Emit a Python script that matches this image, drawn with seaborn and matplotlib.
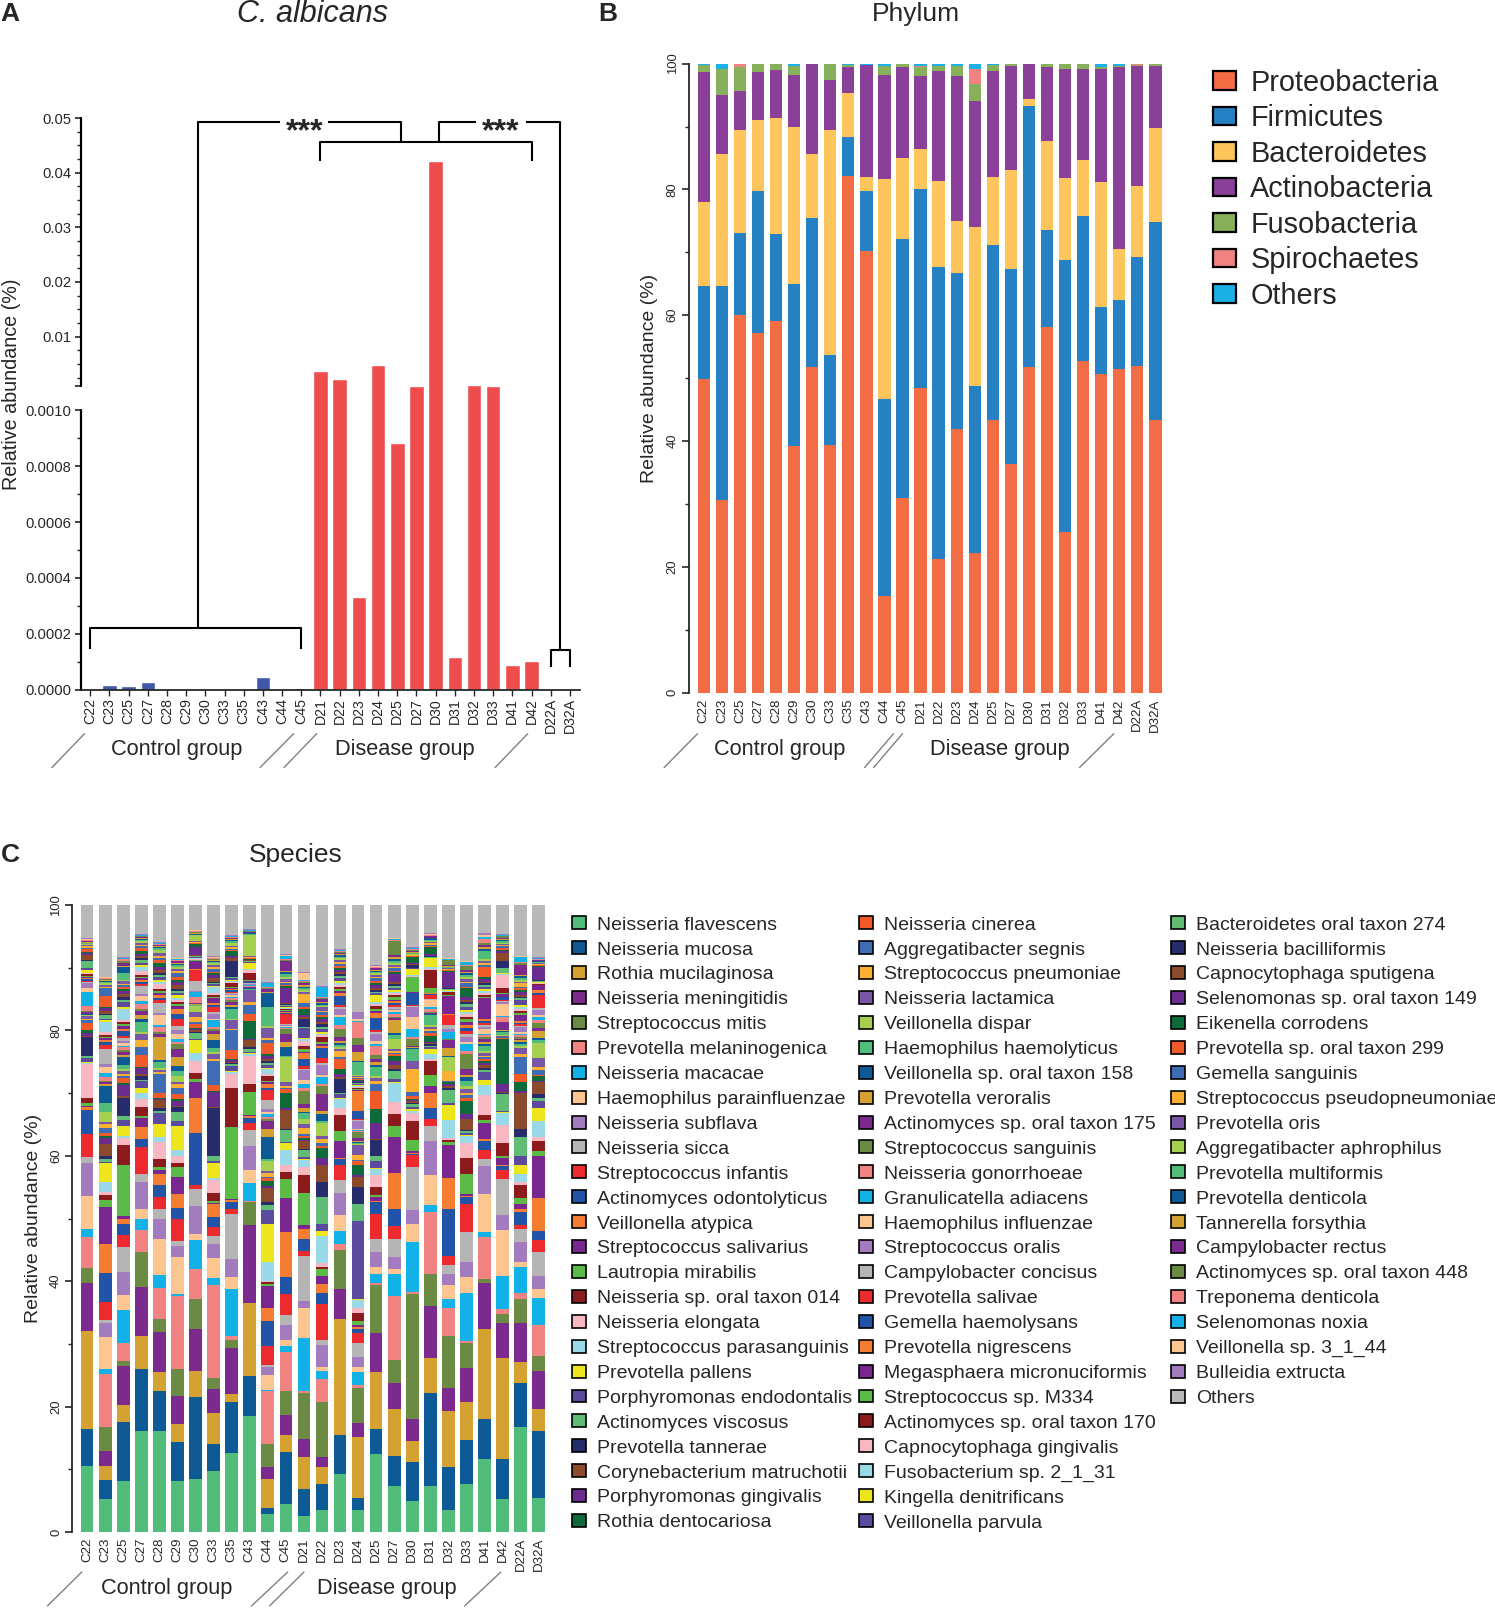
import numpy as np
import pandas as pd
import matplotlib
matplotlib.use("Agg")
import matplotlib.pyplot as plt
from matplotlib.patches import Patch
from matplotlib.transforms import blended_transform_factory
from matplotlib.ticker import FixedLocator, FixedFormatter, NullFormatter
import seaborn as sns

sns.set_theme(style="ticks")
plt.rcParams['font.family'] = ['Liberation Sans', 'DejaVu Sans']
plt.rcParams['axes.linewidth'] = 1.3
plt.rcParams['xtick.major.width'] = 1.0
plt.rcParams['ytick.major.width'] = 1.2
plt.rcParams['ytick.minor.width'] = 1.0

FIG_W, FIG_H = 1495, 1609   # output size in pixels
W, H = 1457, 1568           # frame in which layout positions were measured

samples = ['C22', 'C23', 'C25', 'C27', 'C28', 'C29', 'C30', 'C33', 'C35', 'C43', 'C44', 'C45',
           'D21', 'D22', 'D23', 'D24', 'D25', 'D27', 'D30', 'D31', 'D32', 'D33', 'D41', 'D42',
           'D22A', 'D32A']
groups = ['Control'] * 12 + ['Disease'] * 14

# ---- panel A : C. albicans relative abundance (%)
ca_vals = [0, 1.7e-5, 1.4e-5, 2.6e-5, 0, 3e-6, 0, 3e-6, 0, 4.4e-5, 0, 6e-6,
           0.00368, 0.00226, 0.000331, 0.00486, 0.000885, 0.00105, 0.0422, 0.000115,
           0.00108, 0.00102, 0.0000886, 0.000104, 0, 0]

# ---- panel B : phylum composition (%)
phyla = ['Proteobacteria', 'Firmicutes', 'Bacteroidetes', 'Actinobacteria',
         'Fusobacteria', 'Spirochaetes', 'Others']
proteo = [49.9, 30.7, 60.0, 57.1, 59.1, 39.2, 51.8, 39.4, 82.1, 70.2, 15.4, 31.0, 48.4,
          21.3, 41.9, 22.2, 43.4, 36.3, 51.7, 58.2, 25.5, 52.7, 50.7, 51.4, 51.9, 43.3]
firmi = [14.7, 34.0, 13.1, 22.7, 13.8, 25.7, 23.6, 14.3, 6.3, 9.6, 31.3, 41.1, 31.6,
         46.3, 24.8, 26.6, 27.7, 31.1, 41.5, 15.3, 43.3, 23.1, 10.6, 11.1, 17.4, 31.5]
bacte = [13.4, 20.9, 16.4, 11.2, 18.5, 25.0, 10.2, 35.7, 6.9, 2.1, 34.9, 12.9, 6.5,
         13.7, 8.3, 25.2, 10.9, 15.7, 1.1, 14.2, 13.0, 8.9, 19.9, 8.1, 11.2, 14.9]
actino = [20.6, 9.4, 6.2, 7.7, 7.6, 8.3, 14.3, 8.0, 4.1, 17.9, 16.6, 14.4, 11.5,
          17.5, 23.0, 20.0, 16.9, 16.6, 5.6, 11.7, 17.4, 14.4, 18.0, 28.9, 19.1, 9.9]
fuso = [1.2, 4.2, 3.7, 1.2, 0.9, 1.4, 0.0, 2.5, 0.4, 0.0, 1.4, 0.5, 1.5,
        0.9, 1.6, 2.7, 0.9, 0.2, 0.0, 0.5, 0.7, 0.8, 0.3, 0.1, 0.2, 0.3]
spiro = [0, 0, 0.5, 0, 0, 0, 0, 0, 0, 0, 0, 0, 0.2,
         0, 0, 2.5, 0, 0, 0, 0, 0, 0, 0, 0, 0.2, 0]
phylum_colors = ['#f26c44', '#2581c4', '#fdc55b', '#8a3f98', '#86b15a', '#f08282', '#1ab1e7']

# ---- panel C : species composition (%), legend order, 'Others' is the rest
species = [
    'Neisseria flavescens', 'Neisseria mucosa', 'Rothia mucilaginosa', 'Neisseria meningitidis', 'Streptococcus mitis',
    'Prevotella melaninogenica', 'Neisseria macacae', 'Haemophilus parainfluenzae', 'Neisseria subflava', 'Neisseria sicca',
    'Streptococcus infantis', 'Actinomyces odontolyticus', 'Veillonella atypica', 'Streptococcus salivarius', 'Lautropia mirabilis',
    'Neisseria sp. oral taxon 014', 'Neisseria elongata', 'Streptococcus parasanguinis', 'Prevotella pallens', 'Porphyromonas endodontalis',
    'Actinomyces viscosus', 'Prevotella tannerae', 'Corynebacterium matruchotii', 'Porphyromonas gingivalis', 'Rothia dentocariosa',
    'Neisseria cinerea', 'Aggregatibacter segnis', 'Streptococcus pneumoniae', 'Neisseria lactamica', 'Veillonella dispar',
    'Haemophilus haemolyticus', 'Veillonella sp. oral taxon 158', 'Prevotella veroralis', 'Actinomyces sp. oral taxon 175', 'Streptococcus sanguinis',
    'Neisseria gonorrhoeae', 'Granulicatella adiacens', 'Haemophilus influenzae', 'Streptococcus oralis', 'Campylobacter concisus',
    'Prevotella salivae', 'Gemella haemolysans', 'Prevotella nigrescens', 'Megasphaera micronuciformis', 'Streptococcus sp. M334',
    'Actinomyces sp. oral taxon 170', 'Capnocytophaga gingivalis', 'Fusobacterium sp. 2_1_31', 'Kingella denitrificans', 'Veillonella parvula',
    'Bacteroidetes oral taxon 274', 'Neisseria bacilliformis', 'Capnocytophaga sputigena', 'Selenomonas sp. oral taxon 149', 'Eikenella corrodens',
    'Prevotella sp. oral taxon 299', 'Gemella sanguinis', 'Streptococcus pseudopneumoniae', 'Prevotella oris', 'Aggregatibacter aphrophilus',
    'Prevotella multiformis', 'Prevotella denticola', 'Tannerella forsythia', 'Campylobacter rectus', 'Actinomyces sp. oral taxon 448',
    'Treponema denticola', 'Selenomonas noxia', 'Veillonella sp. 3_1_44', 'Bulleidia extructa']
color_cycle = ['#52bd7b', '#0d5a97', '#d5a130', '#7d2a8f', '#6b8b45', '#f28383', '#12b1e8', '#fdc690', '#a27cbf', '#b5b5b5',
               '#ed2a2e', '#2153a6', '#f47d31', '#7a2690', '#5bbb47', '#8c1b1e', '#f8b8c2', '#9ad9e8', '#ede61c', '#5c4a9f',
               '#61bd75', '#262c6c', '#8a4a2b', '#6b2c8f', '#0e6b39', '#f05a28', '#3e6cb5', '#fbb034', '#7957a6', '#a6cf4f']
others_color = '#b9b9b9'

c22 = [10.5, 6.0, 15.5, 7.7, 2.4, 5.0, 1.3, 5.2, 5.3, 0.9, 3.7, 3.8, 0.5, 0.2, 0.5, 0.7, 5.4, 0.2, 0.2, 0.6, 0.3, 3.0, 0.2, 0.5, 0.4,
       1.2, 0.5, 0.1, 0.5, 0.1, 0.1, 0.1, 0.1, 0.3, 0.1, 0.8, 2.2, 0.7, 0.7, 0.3, 0.1, 0.3, 0.1, 0.3, 0.1,
       0.3, 0.1, 0.1, 0.5, 0.3, 1.0, 0.2, 0.8, 0.3, 0.2, 0.5, 0.2, 0.2, 0.2, 0.2, 0.1, 0.1, 0.1, 0.1, 0.1,
       0.1, 0.1, 0.1, 0.1]
c23 = [5.2, 3.1, 2.2, 2.4, 3.9, 8.4, 0.8, 5.1, 2.2, 0.5, 2.9, 4.6, 4.6, 5.9, 1.1, 0.8, 0.6, 1.6, 2.9, 0.2, 0.5, 0.5, 1.9, 1.0, 0.2,
       0.5, 0.8, 0.7, 0.3, 1.6, 1.4, 2.7, 0.3, 0.3, 0.3, 0.5, 0.7, 1.0, 0.4, 2.4, 0.7, 0.5, 0.3, 0.3, 0.2,
       0.3, 0.4, 1.7, 0.2, 0.3, 0.5, 0.2, 0.5, 0.5, 0.2, 1.7, 1.3, 0.2, 0.3, 0.2, 0.2, 0.2, 0.1, 0.1, 0.1,
       0.1, 0.1, 0.1, 0.1]
c25 = [8.1, 9.5, 2.6, 6.3, 0.8, 2.9, 5.2, 2.4, 3.7, 3.9, 1.9, 1.8, 0.9, 0.4, 8.1, 3.2, 1.2, 0.2, 1.7, 0.9, 0.7, 2.9, 0.3, 1.7, 0.3,
       0.8, 0.3, 0.3, 0.5, 0.3, 0.7, 1.3, 0.3, 0.5, 0.3, 0.4, 0.3, 0.4, 0.3, 0.5, 0.3, 0.8, 0.3, 0.5, 0.3,
       0.3, 0.3, 1.9, 0.3, 0.7, 0.3, 0.5, 0.5, 0.5, 0.3, 0.3, 0.3, 0.2, 0.5, 0.2, 1.1, 0.9, 0.2, 0.5, 0.2,
       0.4, 0.1, 0.1, 0.1]
c27 = [16.1, 9.9, 5.3, 7.8, 5.5, 3.5, 1.9, 1.6, 4.2, 1.3, 4.3, 1.3, 1.9, 1.5, 0.2, 1.5, 1.2, 1.1, 0.8, 1.0, 0.2, 0.7, 0.2, 1.0, 0.2,
       1.9, 1.3, 1.1, 1.0, 0.3, 1.6, 0.5, 0.6, 0.6, 0.3, 0.8, 0.5, 0.8, 0.3, 1.3, 0.3, 0.3, 0.3, 0.4, 0.2,
       0.3, 0.6, 0.7, 0.3, 0.3, 0.4, 0.3, 0.4, 0.3, 0.5, 0.4, 0.3, 0.3, 0.2, 0.3, 0.2, 0.2, 0.1, 0.2, 0.1,
       0.1, 0.1, 0.1, 0.1]
c28 = [16.1, 6.4, 3.1, 6.3, 2.1, 4.9, 2.1, 5.7, 3.2, 1.7, 1.8, 1.9, 1.8, 0.6, 0.5, 1.3, 2.7, 0.8, 2.1, 1.8, 0.2, 0.6, 1.2, 0.2, 0.2,
       0.8, 3.0, 0.3, 0.3, 0.3, 1.0, 0.3, 3.7, 0.5, 0.3, 0.8, 0.3, 1.6, 0.3, 1.6, 0.4, 0.3, 0.5, 0.4, 0.3,
       0.3, 0.8, 0.3, 0.3, 0.5, 0.4, 0.3, 0.5, 0.5, 0.6, 0.5, 0.3, 0.3, 0.4, 0.5, 0.3, 0.2, 0.1, 0.2, 0.1,
       0.1, 0.1, 0.1, 0.1]
c29 = [8.2, 6.1, 3.0, 4.4, 4.3, 11.6, 0.4, 5.8, 1.9, 0.7, 3.5, 1.8, 2.2, 2.7, 1.6, 0.7, 1.1, 1.0, 3.7, 0.9, 1.4, 0.8, 0.2, 0.8, 0.2,
       0.8, 1.0, 0.6, 0.3, 1.0, 0.9, 0.8, 1.3, 1.4, 0.8, 0.3, 0.5, 0.7, 0.6, 0.7, 1.2, 0.8, 0.8, 0.4, 0.3,
       0.3, 0.4, 0.3, 0.4, 0.4, 0.3, 0.3, 0.6, 0.6, 0.3, 0.5, 0.5, 0.4, 0.3, 0.3, 0.3, 0.2, 0.2, 0.2, 0.1,
       0.2, 0.1, 0.1, 0.1]
c30 = [8.4, 13.2, 4.1, 6.7, 4.8, 4.7, 4.6, 1.0, 4.5, 2.7, 0.6, 8.3, 5.7, 2.5, 0.5, 0.9, 2.0, 1.2, 2.1, 0.2, 0.9, 0.2, 0.2, 0.2, 0.2,
       0.7, 0.2, 0.8, 0.9, 0.9, 0.1, 0.1, 0.1, 0.1, 0.1, 1.0, 0.7, 0.1, 0.1, 1.6, 1.7, 0.1, 0.1, 1.3, 0.1,
       0.1, 0.1, 0.1, 0.1, 0.1, 0.1, 0.1, 0.1, 1.3, 0.5, 0.1, 0.1, 0.1, 0.1, 1.0, 0.1, 0.1, 0.1, 0.1, 0.1,
       0.1, 0.1, 0.1, 0.1]
c33 = [9.8, 4.2, 5.0, 3.8, 1.7, 14.9, 1.1, 3.2, 2.3, 1.2, 1.5, 1.6, 2.0, 0.2, 0.3, 1.3, 2.1, 0.2, 2.4, 0.3, 0.8, 7.7, 0.2, 2.4, 0.2,
       0.9, 3.9, 0.3, 0.8, 0.2, 0.7, 1.2, 1.1, 0.4, 0.3, 0.3, 1.1, 0.3, 0.7, 0.3, 0.8, 0.3, 0.3, 0.9, 0.2,
       0.3, 0.2, 1.0, 0.2, 0.3, 0.2, 0.2, 0.5, 0.6, 0.2, 0.3, 0.4, 0.4, 0.3, 0.2, 0.2, 0.2, 0.1, 0.1, 0.1,
       0.1, 0.1, 0.1, 0.1]
c35 = [12.6, 8.1, 1.3, 7.3, 1.4, 0.6, 7.4, 2.0, 2.8, 7.2, 0.8, 1.1, 0.3, 0.2, 11.5, 6.2, 2.3, 0.2, 0.2, 0.9, 0.2, 0.2, 0.2, 0.3, 0.2,
       1.4, 3.1, 0.3, 1.3, 0.3, 1.6, 0.3, 0.3, 0.4, 0.4, 0.3, 0.2, 0.2, 0.2, 0.2, 0.2, 0.2, 0.2, 0.2, 0.2,
       0.5, 0.2, 0.2, 0.2, 0.3, 0.2, 2.4, 0.5, 0.3, 0.8, 0.2, 0.2, 0.3, 0.2, 0.5, 0.3, 0.2, 0.1, 0.1, 0.1,
       0.1, 0.1, 0.1, 0.1]
c43 = [18.5, 6.4, 11.6, 12.4, 3.7, 0.2, 2.9, 2.1, 3.8, 2.6, 1.0, 0.9, 0.2, 0.2, 3.7, 1.3, 4.5, 0.2, 0.2, 0.2, 0.5, 0.2, 1.1, 0.2, 2.9,
       1.2, 1.4, 0.5, 1.8, 0.1, 0.1, 0.1, 0.1, 0.1, 0.1, 0.1, 0.1, 0.1, 0.1, 0.1, 0.1, 0.1, 0.1, 0.1, 0.1,
       1.2, 0.4, 0.2, 1.0, 0.1, 0.1, 0.1, 0.1, 0.1, 0.1, 0.1, 0.1, 0.1, 0.1, 3.5, 0.1, 0.1, 0.1, 0.1, 0.1,
       0.1, 0.1, 0.1, 0.1]
c44 = [2.9, 1.0, 4.6, 1.9, 3.6, 8.5, 0.2, 2.4, 1.3, 0.2, 3.0, 4.1, 2.0, 3.6, 0.3, 0.3, 0.2, 3.0, 6.0, 2.2, 0.8, 0.6, 2.1, 0.4, 0.8,
       0.4, 0.3, 0.6, 0.3, 1.6, 0.3, 3.5, 1.3, 1.3, 0.3, 0.3, 0.5, 0.3, 0.5, 1.4, 1.6, 0.3, 0.6, 0.3, 0.3,
       0.7, 0.3, 0.8, 0.2, 0.5, 0.3, 0.3, 0.3, 0.5, 0.3, 1.8, 0.5, 0.3, 1.6, 0.3, 3.0, 2.3, 0.2, 0.4, 0.2,
       0.2, 0.5, 0.1, 0.1]
c45 = [4.4, 8.3, 2.8, 3.1, 3.9, 6.2, 1.0, 1.0, 2.4, 1.5, 3.4, 2.7, 7.1, 5.4, 3.1, 1.1, 1.1, 2.5, 1.0, 0.2, 1.9, 0.2, 3.0, 0.4, 2.4,
       0.5, 0.3, 0.3, 0.5, 4.0, 0.3, 1.3, 0.8, 1.3, 0.8, 0.15, 0.25, 0.15, 0.15, 0.15, 1.5, 0.2, 0.15, 0.15, 0.15,
       0.15, 0.15, 0.15, 0.15, 0.15, 0.15, 0.1, 0.15, 2.5, 0.2, 0.2, 0.3, 0.2, 0.5, 0.3, 0.5, 0.3, 0.2, 1.5, 0.2,
       0.2, 0.5, 0.1, 0.1]
d21 = [2.6, 4.3, 5.0, 3.0, 7.3, 0.3, 8.5, 4.8, 1.1, 7.2, 0.7, 2.0, 1.6, 0.5, 5.1, 3.0, 1.3, 1.0, 0.2, 0.3, 1.1, 0.2, 1.2, 0.3, 0.2,
       0.3, 0.4, 0.9, 0.7, 0.7, 1.0, 0.2, 0.7, 0.6, 2.1, 0.5, 0.5, 0.7, 1.6, 0.2, 0.4, 1.2, 0.9, 0.2, 0.5,
       0.5, 0.7, 0.3, 0.2, 1.6, 0.2, 1.2, 0.4, 0.2, 1.0, 0.3, 0.6, 1.5, 0.3, 0.3, 0.3, 0.3, 0.2, 0.3, 0.2,
       0.2, 0.2, 1.1, 0.2]
d22 = [3.5, 4.1, 2.8, 1.6, 8.8, 3.6, 1.3, 0.7, 3.4, 0.9, 5.6, 1.9, 1.4, 1.3, 1.0, 0.4, 0.6, 4.3, 0.8, 1.1, 4.3, 2.5, 2.6, 1.2, 1.5,
       0.4, 0.5, 0.6, 0.4, 2.1, 0.3, 1.1, 0.5, 2.7, 1.4, 0.2, 1.2, 0.3, 1.6, 0.3, 0.8, 1.6, 0.3, 0.3, 0.3,
       0.8, 0.3, 0.3, 0.3, 0.5, 0.3, 0.4, 0.3, 0.5, 0.3, 0.3, 0.5, 0.2, 0.6, 0.2, 0.2, 0.3, 0.2, 0.4, 0.2,
       0.2, 1.5, 0.1, 0.1]
d23 = [9.2, 6.2, 18.6, 4.8, 6.2, 0.9, 2.1, 2.5, 3.5, 2.2, 2.3, 1.0, 0.2, 2.6, 1.7, 2.5, 1.1, 1.4, 0.2, 0.6, 0.2, 2.3, 0.2, 0.6, 0.8,
       1.6, 0.3, 1.0, 0.3, 0.3, 0.3, 0.3, 0.3, 0.6, 1.4, 0.6, 1.2, 0.3, 1.0, 0.3, 0.3, 1.5, 0.4, 0.4, 0.3,
       0.4, 0.3, 0.3, 0.3, 0.4, 0.4, 0.3, 0.3, 0.3, 0.3, 0.4, 0.3, 0.3, 0.3, 0.3, 0.2, 0.3, 0.2, 0.2, 0.1,
       0.2, 0.1, 0.1, 0.1]
d24 = [3.5, 2.0, 9.7, 2.2, 5.5, 0.5, 2.1, 0.9, 1.5, 2.3, 1.5, 0.7, 0.3, 0.4, 0.5, 1.4, 0.8, 1.2, 0.2, 12.4, 2.8, 2.7, 1.6, 0.3, 1.6,
       0.5, 0.3, 0.8, 1.6, 0.15, 0.15, 0.15, 0.15, 0.4, 1.0, 0.15, 0.15, 0.15, 1.3, 0.15, 0.15, 1.3, 3.2, 0.15, 0.15,
       0.15, 0.15, 0.15, 0.15, 0.15, 0.15, 0.15, 0.15, 0.15, 0.15, 0.15, 0.15, 0.15, 0.15, 0.15, 2.0, 0.15, 1.5, 1.2, 1.0,
       2.6, 0.2, 0.2, 1.2]
d25 = [12.4, 4.1, 9.0, 6.2, 7.7, 0.4, 1.3, 1.1, 2.5, 2.0, 4.1, 1.8, 0.2, 0.6, 0.4, 1.2, 1.9, 1.0, 0.2, 1.0, 0.8, 2.6, 0.2, 2.6, 2.1,
       3.0, 1.0, 0.5, 0.5, 0.4, 1.3, 0.4, 0.4, 0.6, 0.6, 1.4, 0.3, 0.5, 1.2, 0.3, 0.3, 1.9, 0.8, 0.3, 0.3,
       0.5, 0.3, 0.3, 1.1, 0.3, 0.3, 0.3, 0.3, 0.5, 0.3, 0.3, 0.4, 0.3, 0.3, 0.2, 0.2, 0.2, 0.2, 0.2, 0.1,
       0.1, 0.1, 0.1, 0.1]
d27 = [7.3, 4.8, 7.6, 4.0, 3.7, 10.2, 3.5, 0.9, 1.9, 2.9, 2.0, 2.7, 5.7, 5.8, 1.7, 1.9, 2.0, 3.0, 0.2, 0.4, 1.4, 0.2, 0.7, 0.6, 0.8,
       0.3, 0.2, 0.4, 0.3, 1.6, 0.6, 0.3, 2.1, 0.3, 0.2, 0.4, 0.3, 0.3, 0.2, 0.4, 0.3, 0.3, 0.3, 0.2, 0.4,
       0.3, 0.3, 0.2, 0.4, 0.3, 0.3, 0.3, 0.3, 1.3, 0.3, 0.2, 0.4, 0.3, 0.3, 0.3, 0.2, 0.4, 0.3, 0.3, 2.2,
       0.2, 0.2, 0.1, 0.1]
d30 = [4.9, 6.3, 3.3, 3.5, 19.9, 0.4, 8.0, 2.8, 2.3, 6.8, 1.9, 0.2, 0.2, 0.2, 1.8, 3.1, 1.3, 0.3, 0.3, 0.3, 0.5, 0.2, 0.2, 0.2, 0.2,
       0.5, 0.6, 3.6, 1.3, 0.1, 1.9, 0.1, 0.1, 0.3, 1.0, 0.4, 1.3, 1.9, 1.6, 0.1, 0.1, 1.9, 0.1, 0.1, 2.4,
       0.1, 0.1, 0.1, 1.0, 0.1, 0.1, 0.5, 0.1, 0.1, 1.0, 0.1, 0.1, 0.1, 0.1, 0.1, 0.1, 0.1, 0.1, 0.1, 0.3,
       0.1, 0.1, 0.1, 0.1]
d31 = [7.3, 14.9, 5.6, 8.3, 5.0, 9.9, 1.1, 4.8, 5.5, 2.4, 1.1, 1.8, 2.4, 1.1, 1.7, 2.3, 0.3, 0.8, 0.8, 0.2, 0.3, 0.2, 0.2, 0.2, 0.9,
       0.5, 0.3, 0.4, 0.3, 0.3, 1.6, 0.1, 0.1, 0.1, 0.1, 0.6, 0.2, 1.1, 0.1, 0.1, 0.7, 0.1, 0.1, 0.1, 0.7,
       2.9, 0.2, 0.4, 1.3, 0.1, 0.1, 0.1, 0.1, 0.3, 1.1, 0.2, 0.2, 0.2, 0.2, 0.2, 0.2, 0.2, 0.1, 0.2, 0.1,
       0.1, 0.1, 0.1, 0.1]
d32 = [3.5, 6.9, 8.9, 3.7, 8.2, 4.6, 1.3, 2.3, 1.7, 1.5, 1.5, 7.5, 4.9, 5.3, 0.4, 0.3, 0.3, 2.9, 2.4, 0.3, 2.1, 0.3, 0.3, 0.3, 0.3,
       0.1, 0.1, 1.6, 0.1, 2.1, 0.1, 0.1, 1.3, 1.3, 0.1, 0.1, 1.0, 0.1, 0.5, 0.5, 1.6, 0.1, 0.1, 2.9, 0.1,
       0.5, 0.1, 0.1, 0.1, 0.1, 0.1, 0.1, 0.1, 2.6, 0.1, 0.1, 0.1, 0.1, 0.1, 0.1, 0.1, 0.1, 0.1, 0.1, 0.8,
       0.1, 0.1, 0.1, 0.1]
d33 = [7.6, 7.1, 6.0, 5.4, 4.1, 0.3, 7.7, 2.5, 2.3, 4.9, 4.4, 1.1, 0.2, 0.3, 3.2, 2.6, 2.3, 1.1, 0.2, 0.3, 0.3, 0.3, 1.6, 0.8, 2.1,
       0.5, 0.5, 0.4, 0.6, 0.5, 0.8, 0.5, 0.4, 1.0, 2.4, 0.4, 1.1, 0.4, 0.8, 0.4, 0.5, 0.5, 0.4, 0.6, 0.4,
       0.4, 0.4, 0.4, 0.3, 0.5, 0.4, 0.3, 0.4, 0.5, 1.3, 0.3, 0.5, 0.3, 0.4, 0.3, 0.3, 0.4, 0.2, 0.3, 0.6,
       0.2, 0.4, 0.1, 0.1]
d41 = [11.6, 6.4, 14.4, 7.4, 0.5, 6.7, 0.9, 6.0, 4.5, 1.1, 1.5, 1.4, 0.3, 2.6, 0.4, 0.8, 3.2, 1.6, 0.8, 1.3, 0.3, 0.3, 0.5, 0.3, 0.3,
       0.3, 0.3, 0.3, 0.4, 0.3, 0.8, 0.3, 0.3, 0.5, 0.3, 0.3, 0.3, 0.8, 0.3, 0.3, 0.3, 0.3, 0.3, 3.3, 0.3,
       0.3, 0.3, 0.3, 0.3, 0.3, 0.3, 0.3, 0.3, 0.4, 0.4, 1.6, 0.3, 0.3, 0.3, 0.3, 1.3, 0.3, 0.3, 0.4, 0.3,
       0.6, 0.3, 0.4, 0.2]
d42 = [5.3, 6.4, 16.0, 5.6, 1.4, 0.8, 5.4, 7.2, 2.4, 5.8, 1.4, 0.7, 0.2, 1.1, 0.2, 2.1, 2.9, 1.9, 0.2, 0.2, 2.6, 0.2, 0.2, 1.3, 7.2,
       0.1, 0.1, 0.1, 0.1, 0.1, 0.6, 0.1, 0.1, 1.3, 0.1, 0.8, 0.1, 1.9, 0.4, 0.1, 0.1, 0.5, 0.1, 0.4, 0.1,
       0.9, 2.1, 0.1, 0.1, 0.1, 0.8, 1.0, 1.3, 0.3, 0.3, 0.3, 0.2, 0.2, 0.2, 0.2, 0.2, 0.2, 0.2, 0.2, 0.2,
       0.1, 0.1, 0.1, 0.1]
d22a = [16.8, 6.9, 3.4, 6.2, 3.8, 1.1, 4.1, 0.8, 3.1, 2.1, 0.6, 2.2, 0.5, 0.8, 0.8, 2.1, 0.5, 1.3, 1.5, 1.3, 3.1, 1.3, 5.8, 0.3, 1.4,
        1.3, 2.6, 0.5, 1.0, 0.4, 0.3, 0.25, 0.25, 0.3, 0.25, 0.25, 0.25, 0.25, 0.8, 0.25, 0.25, 0.25, 0.25, 1.0, 0.3,
        0.3, 0.3, 0.3, 0.3, 0.8, 0.3, 0.3, 0.3, 0.4, 0.3, 0.3, 0.3, 0.5, 0.3, 0.3, 0.3, 0.3, 0.2, 1.6, 0.2,
        0.2, 0.8, 0.1, 0.1]
d32a = [5.5, 10.6, 3.6, 6.0, 2.4, 5.0, 4.3, 1.3, 2.1, 3.9, 1.9, 1.4, 5.2, 6.7, 0.9, 1.6, 0.6, 2.6, 2.1, 1.0, 0.6, 0.6, 1.8, 0.2, 0.8,
        0.2, 0.8, 0.5, 1.4, 2.4, 0.4, 0.4, 1.1, 0.5, 0.8, 0.5, 0.5, 0.3, 0.8, 0.3, 2.1, 0.3, 0.4, 0.8, 0.1,
        0.1, 0.1, 0.1, 0.1, 0.1, 0.1, 0.1, 0.1, 2.1, 0.1, 0.1, 0.1, 0.1, 0.1, 0.1, 0.1, 0.1, 0.1, 0.1, 0.1,
        0.1, 0.1, 0.1, 0.1]
species_table = [c22, c23, c25, c27, c28, c29, c30, c33, c35, c43, c44, c45,
                 d21, d22, d23, d24, d25, d27, d30, d31, d32, d33, d41, d42, d22a, d32a]


def px(x, y):
    return x / W, 1 - y / H


def box(x0, y0, x1, y1):
    return [x0 / W, 1 - y1 / H, (x1 - x0) / W, (y1 - y0) / H]


fig = plt.figure(figsize=(FIG_W / 100, FIG_H / 100), dpi=100)

# ================= A =================
axA = fig.add_axes(box(78.6, 115, 564.8, 672))
dfA = pd.DataFrame({'sample': samples, 'val': ca_vals, 'group': groups})
sns.barplot(data=dfA, x='sample', y='val', hue='group',
            palette={'Control': '#3f58a8', 'Disease': '#ef4c4e'},
            dodge=False, saturation=1, width=0.76, errorbar=None, legend=False, ax=axA)

# broken axis: 0-0.001 in the lower part, 0.001-0.05 in the upper part
bp = [-1.0, 0.0, 0.001, 0.001 + 1e-9, 0.05, 1.0]
pp = [-272000.0, 0.0, 272.0, 296.0, 557.0, 557.0 + 0.95 * 5330.6]


def fwd(v):
    return np.interp(v, bp, pp)


def inv(p):
    return np.interp(p, pp, bp)


axA.set_yscale('function', functions=(fwd, inv))
axA.set_ylim(0, 0.05)
axA.set_xlim(-0.5, 25.5)
majA = [0, 0.0002, 0.0004, 0.0006, 0.0008, 0.0010, 0.0010001, 0.01, 0.02, 0.03, 0.04, 0.05]
labA = ['0.0000', '0.0002', '0.0004', '0.0006', '0.0008', '0.0010', '', '0.01', '0.02', '0.03', '0.04', '0.05']
minA = [0.0001, 0.0003, 0.0005, 0.0007, 0.0009] + [0.0025 * k for k in range(1, 20) if k % 4 != 0]
axA.yaxis.set_major_locator(FixedLocator(majA))
axA.yaxis.set_major_formatter(FixedFormatter(labA))
axA.yaxis.set_minor_locator(FixedLocator(minA))
axA.yaxis.set_minor_formatter(NullFormatter())
axA.tick_params(axis='y', which='major', length=4.5, labelsize=10.6, pad=2)
axA.tick_params(axis='y', which='minor', length=2.8)
axA.tick_params(axis='x', length=4, labelsize=10.2, pad=2)
axA.set_xticks(range(len(samples)))
axA.set_xticklabels(samples, rotation=90)
axA.set_xlabel('')
axA.set_ylabel('Relative abundance (%)', fontsize=14.2)
axA.yaxis.set_label_coords(-0.12, 0.535)
for s in ['top', 'right', 'left']:
    axA.spines[s].set_visible(False)
trA = blended_transform_factory(axA.transAxes, axA.transData)
axA.plot([0, 0], [0, 0.001], transform=trA, color='black', lw=1.6, clip_on=False)
axA.plot([0, 0], [0.0010001, 0.05], transform=trA, color='black', lw=1.6, clip_on=False)


# significance brackets
def seg(xs, ys):
    axA.plot(xs, ys, color='black', lw=1.5, clip_on=False, zorder=5, solid_capstyle='butt')


seg([0, 0, 11, 11], [0.000145, 0.000222, 0.000222, 0.000145])
seg([5.63, 5.63, 9.9], [0.000222, 0.0493, 0.0493])
seg([12.4, 16.2, 16.2], [0.0493, 0.0493, 0.0457])
seg([12, 12, 23, 23], [0.0422, 0.0457, 0.0457, 0.0422])
seg([18.2, 18.2, 20.1], [0.0457, 0.0493, 0.0493])
seg([22.7, 24.5, 24.5], [0.0493, 0.0493, 0.000142])
seg([24, 24, 25, 25], [0.0000824, 0.000142, 0.000142, 0.0000824])
for xs in [11.15, 21.4]:
    axA.annotate('***', xy=(xs, 0.0493), xytext=(0, -13.5), textcoords='offset points',
                 ha='center', va='baseline', fontsize=23, fontweight='bold')


def stacked(ax, rows, names, colors, shrink):
    recs = []
    for i, row in enumerate(rows):
        for n, v in zip(names, row):
            recs.append((i, n, v))
    df = pd.DataFrame(recs, columns=['pos', 'taxon', 'val'])
    sns.histplot(data=df, x='pos', weights='val', hue='taxon', hue_order=names[::-1],
                 palette=dict(zip(names, colors)), multiple='stack', discrete=True,
                 shrink=shrink, alpha=1, linewidth=0, legend=False, ax=ax)
    ax.set_ylim(0, 100)
    ax.set_xlim(-0.85, 25.5)
    ax.set_xticks(range(len(samples)))
    ax.set_xticklabels(samples, rotation=90)
    ax.tick_params(axis='x', length=0, labelsize=9.6, pad=4)
    ax.set_yticks([0, 20, 40, 60, 80, 100])
    ax.set_yticks([10, 30, 50, 70, 90], minor=True)
    ax.tick_params(axis='y', which='major', length=5, labelsize=9.4, pad=2)
    ax.tick_params(axis='y', which='minor', length=3)
    for t in ax.get_yticklabels():
        t.set_rotation(90)
        t.set_verticalalignment('center')
    ax.set_xlabel('')
    ax.set_ylabel('Relative abundance (%)', fontsize=14, labelpad=6)
    sns.despine(ax=ax, bottom=True)


# ================= B =================
axB = fig.add_axes(box(671, 62, 1134.8, 675))
phy_rows = []
for i in range(len(samples)):
    vals = [proteo[i], firmi[i], bacte[i], actino[i], fuso[i], spiro[i]]
    phy_rows.append(vals + [max(0.0, 100 - sum(vals))])
stacked(axB, phy_rows, phyla, phylum_colors, 0.68)

# ================= C =================
axC = fig.add_axes(box(70, 882, 533.8, 1493))
taxa = species + ['Others']
taxa_colors = [color_cycle[i % 30] for i in range(len(species))] + [others_color]
sp_rows = [row + [max(0.0, 100 - sum(row))] for row in species_table]
stacked(axC, sp_rows, taxa, taxa_colors, 0.70)


# group labels and slashes
def group_marks(ax, label_x, label_y, slashes, y0, y1):
    tr = blended_transform_factory(ax.transData, fig.transFigure)
    for (xa, xb) in slashes:
        ax.plot([xa, xb], [1 - y0 / H, 1 - y1 / H], transform=tr, color='#808080',
                lw=1.0, clip_on=False)
    for txt, xx in zip(['Control group', 'Disease group'], label_x):
        ax.text(xx, 1 - label_y / H, txt, transform=tr, ha='center', va='center', fontsize=15.7)


group_marks(axA, [4.5, 16.4], 730, [(-2.0, -0.3), (8.85, 10.6), (10.1, 11.8), (21.1, 22.8)], 748, 715)
group_marks(axB, [4.2, 16.4], 730, [(-2.2, -0.35), (8.9, 10.5), (9.4, 11.0), (20.8, 22.7)], 748, 715)
group_marks(axC, [4.4, 16.6], 1548, [(-2.2, -0.3), (9.1, 11.1), (10.1, 12.0), (20.9, 22.9)], 1565, 1532)

# legends
hB = [Patch(facecolor=c, edgecolor='black', linewidth=1.6) for c in phylum_colors]
fig.legend(hB, phyla, loc='upper left', bbox_to_anchor=px(1182, 67), frameon=False,
           fontsize=20.8, handlelength=0.8, handleheight=0.6, handletextpad=0.5,
           labelspacing=0.26, borderpad=0, borderaxespad=0)
hC = [Patch(facecolor=c, edgecolor='black', linewidth=1.2) for c in taxa_colors]
cols = [(0, 25, 557), (25, 50, 837), (50, 70, 1141)]
for a, b, xl in cols:
    fig.legend(hC[a:b], taxa[a:b], loc='upper left', bbox_to_anchor=px(xl, 893), frameon=False,
               fontsize=14, handlelength=0.75, handleheight=0.65, handletextpad=0.55,
               labelspacing=0.39, borderpad=0, borderaxespad=0)

# titles and panel letters
fig.text(*px(305, 14), 'C. albicans', style='italic', fontsize=22, ha='center', va='center')
fig.text(*px(893, 14), 'Phylum', fontsize=19, ha='center', va='center')
fig.text(*px(288, 833), 'Species', fontsize=19, ha='center', va='center')
for letter, (x, y) in zip('ABC', [(10, 14), (592, 14), (10, 833)]):
    fig.text(*px(x, y), letter, fontsize=19, fontweight='bold', ha='center', va='center')

fig.savefig('out.png', dpi=100, facecolor='white')
